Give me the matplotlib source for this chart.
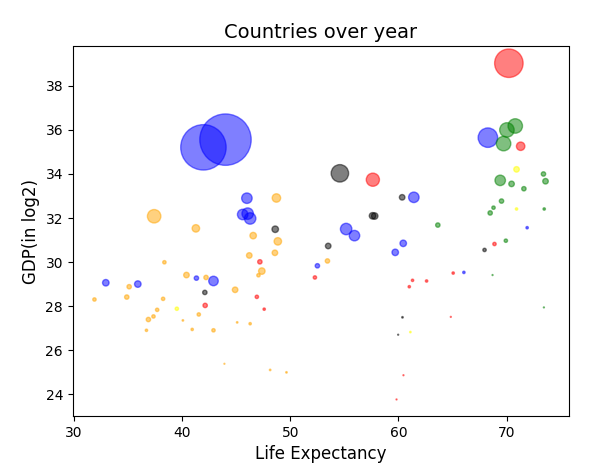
import matplotlib
matplotlib.use("Agg")
import matplotlib.pyplot as plt

# life expectancy, log2 GDP and marker size (population) per continent colour
blue_life = [41.96, 44.0, 45.98, 45.59, 46.05, 46.28, 55.16, 55.93, 61.42, 60.44,
             59.7, 52.5, 68.27, 71.9, 66.05, 41.31, 42.89, 32.93, 35.89]
blue_gdp = [35.21, 35.56, 32.9, 32.16, 32.2, 31.98, 31.5, 31.2, 32.94, 30.85,
            30.44, 29.83, 35.65, 31.56, 29.53, 29.27, 29.14, 29.06, 29.0]
blue_pop = [1070, 1370, 57, 57, 68, 68, 68, 57, 57, 22,
            22, 10, 197, 3, 3, 10, 47, 22, 22]

orange_life = [37.4, 41.26, 48.71, 46.56, 48.84, 46.2, 48.57, 47.36, 47.05, 46.28,
               48.13, 49.64, 53.43, 38.35, 40.39, 42.2, 35.09, 31.88, 34.87, 38.23,
               44.89, 37.68, 36.87, 37.34, 40.06, 41.53, 45.08, 36.69, 40.92, 42.89,
               43.9]
orange_gdp = [32.08, 31.53, 32.91, 31.2, 30.94, 30.3, 30.42, 29.59, 29.4, 27.2,
              25.1, 24.99, 30.05, 29.99, 29.41, 29.3, 28.88, 28.3, 28.41, 28.33,
              28.74, 27.83, 27.39, 27.53, 27.35, 27.62, 27.26, 26.9, 26.94, 26.9,
              25.38]
orange_pop = [94, 29, 37, 22, 29, 16, 16, 22, 6, 3,
              1.2, 1.2, 10, 6, 16, 10, 10, 6, 10, 6,
              16, 6, 10, 6, 1.2, 6, 1.2, 3, 3, 6,
              0.5]

red_life = [70.21, 57.63, 71.3, 47.18, 46.9, 47.58, 52.27, 61.3, 61.0, 60.46,
            59.82, 68.88, 65.06, 62.6, 64.84, 42.12]
red_gdp = [39.03, 33.74, 35.26, 30.01, 28.42, 27.86, 29.3, 29.17, 28.88, 24.86,
           23.76, 30.82, 29.5, 29.14, 27.51, 28.03]
red_pop = [420, 90, 37, 10, 6, 3, 6, 3, 3, 0.5,
           0.5, 6, 3, 3, 0.5, 10]

green_life = [70.8, 70.03, 69.72, 73.41, 73.6, 69.41, 70.46, 71.6, 69.53, 68.79,
              68.48, 73.48, 63.64, 69.93, 68.7, 73.45]
green_gdp = [36.18, 36.0, 35.38, 34.0, 33.67, 33.71, 33.55, 33.33, 32.77, 32.47,
             32.23, 32.41, 31.68, 30.97, 29.41, 27.94]
green_pop = [109, 109, 109, 10, 16, 57, 16, 10, 10, 6,
             10, 3, 10, 6, 0.5, 0.5]

black_life = [54.58, 60.34, 57.6, 57.8, 48.6, 53.5, 42.09, 67.96, 60.37, 59.97]
black_gdp = [34.03, 32.94, 32.1, 32.09, 31.49, 30.73, 28.62, 30.55, 27.49, 26.7]
black_pop = [158, 16, 22, 22, 22, 16, 10, 6, 1.2, 0.5]

yellow_life = [70.92, 70.92, 61.1, 39.5]
yellow_gdp = [34.21, 32.41, 26.82, 27.88]
yellow_pop = [16, 3, 1.2, 6]

groups = [
    ("blue", blue_life, blue_gdp, blue_pop),
    ("orange", orange_life, orange_gdp, orange_pop),
    ("red", red_life, red_gdp, red_pop),
    ("green", green_life, green_gdp, green_pop),
    ("black", black_life, black_gdp, black_pop),
    ("yellow", yellow_life, yellow_gdp, yellow_pop),
]

fig, ax = plt.subplots(figsize=(6.12, 4.65), dpi=100)
fig.subplots_adjust(left=0.119, right=0.929, top=0.9, bottom=0.105)

for color, life, gdp, pop in groups:
    ax.scatter(life, gdp, s=pop, c=color, alpha=0.5)

ax.set_xlim(29.88, 75.73)
ax.set_ylim(23.0, 39.79)
ax.set_xlabel("Life Expectancy", fontsize=12)
ax.set_ylabel("GDP(in log2)", fontsize=12)
ax.set_title("Countries over year", fontsize=14)

plt.savefig("out.png", dpi=100)
